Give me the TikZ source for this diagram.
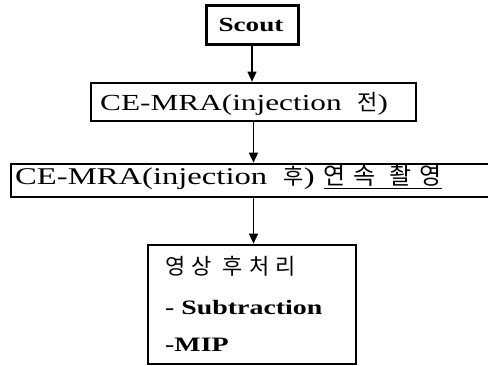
\documentclass[tikz,border=0pt]{standalone}
\usepackage{fontspec}
\setmainfont{Liberation Serif}[FakeStretch=1.36]
\newfontfamily\kr{Noto Sans CJK KR}[LetterSpace=22]
\newfontfamily\krw{Noto Sans CJK KR}[LetterSpace=28]
\newfontfamily\krx{Noto Sans CJK KR}[LetterSpace=34]
\usetikzlibrary{arrows.meta}
\tikzset{
  boxstyle/.style={draw=black, line width=2.6pt, inner sep=0pt},
  lbl/.style={inner sep=0pt, anchor=base west},
  arr/.style={line width=1.3pt, -{Triangle[length=10pt,width=9pt]}},
  latn/.style={font=\fontsize{23}{26}\selectfont},
}
\newcommand{\krt}[1]{{\kr\fontsize{22}{26}\selectfont #1}}
\begin{document}
\begin{tikzpicture}[x=1pt,y=-1pt]
\useasboundingbox (0,0) rectangle (488,366);
% boxes
\node[boxstyle, line width=3pt, minimum width=92pt, minimum height=39pt] (scout) at (252,25.5) {};
\node[inner sep=0pt, anchor=base] (scoutt) at (251,32) {\fontsize{20}{22}\selectfont\bfseries Scout};
\node[boxstyle, minimum width=325pt, minimum height=38pt] (b2) at (253.5,102) {};
\node[lbl, latn] (b2t) at (100,111) {CE-MRA(injection\ \ \krt{전})};
\node[boxstyle, minimum width=520pt, minimum height=33pt] (b3) at (271,180.5) {};
\node[lbl, font=\fontsize{24}{27}\selectfont] (b3t) at (15,184.5) {CE-MRA(injection\ \ \krt{후})\hspace{9pt}{\krx\fontsize{24}{27}\selectfont\underline{연속 촬영}}};
\node[boxstyle, minimum width=208pt, minimum height=119pt] (b4) at (252,304.5) {};
\node[lbl] (b4a) at (165,275) {\krw\fontsize{22}{26}\selectfont 영상\ 후처리};
\node[lbl] (b4b) at (165,315) {\fontsize{20.5}{24}\selectfont\bfseries - Subtraction};
\node[lbl] (b4c) at (165,352) {\fontsize{20.5}{24}\selectfont\bfseries -MIP};
% arrows
\draw[arr] (scout.south) -- (scout.south |- b2.north);
\draw[arr] (b2.south) -- (b2.south |- b3.north);
\draw[arr] (b2.south |- b3.south) -- (b2.south |- b4.north);
\end{tikzpicture}
\end{document}
